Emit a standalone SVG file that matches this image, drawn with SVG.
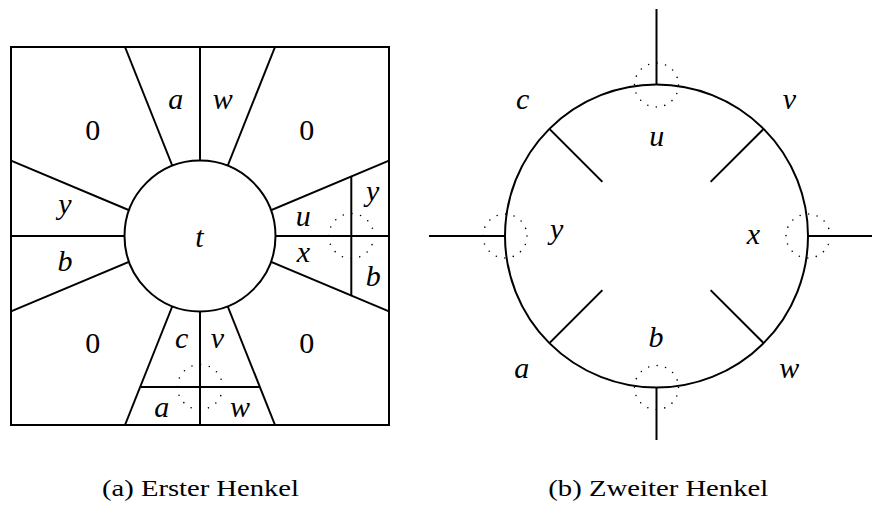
<svg xmlns="http://www.w3.org/2000/svg" width="872" height="509" viewBox="0 0 872 509">
<style>
.ln{stroke:#000;stroke-width:2;fill:none;stroke-linecap:butt}
.cw{stroke:#000;stroke-width:2;fill:#fff}
.dot{stroke:#000;stroke-width:1.6;fill:none;stroke-linecap:round}
.serif{font-family:'Liberation Serif','DejaVu Serif','Times New Roman',serif}
</style>
<rect width="872" height="509" fill="#fff"/>

<g id="panel-a">
  <g id="connectors-a">
    <rect x="11" y="47" width="378" height="378" class="ln"/>
    <line class="ln" x1="200" y1="47" x2="200" y2="200"/>
    <line class="ln" x1="125" y1="47" x2="180" y2="185"/>
    <line class="ln" x1="275" y1="47" x2="220" y2="185"/>
    <line class="ln" x1="11" y1="160.7" x2="150" y2="219"/>
    <line class="ln" x1="11" y1="311.3" x2="150" y2="253"/>
    <line class="ln" x1="11" y1="236" x2="150" y2="236"/>
    <line class="ln" x1="389" y1="160.7" x2="250" y2="219"/>
    <line class="ln" x1="389" y1="311.3" x2="250" y2="253"/>
    <line class="ln" x1="250" y1="236" x2="389" y2="236"/>
    <line class="ln" x1="351.3" y1="176.5" x2="351.3" y2="295.5"/>
    <line class="ln" x1="200" y1="270" x2="200" y2="425"/>
    <line class="ln" x1="180" y1="287" x2="125" y2="425"/>
    <line class="ln" x1="220" y1="287" x2="275" y2="425"/>
    <line class="ln" x1="140.7" y1="387" x2="259.3" y2="387"/>
  </g>
  <g id="node-t">
    <circle class="cw" cx="200" cy="236" r="75.5"/>
    <text class="serif" x="199.5" y="246.7" font-style="italic" font-size="30" text-anchor="middle">t</text>
  </g>
  <g id="dots-a">
    <circle class="dot" cx="351.3" cy="236" r="22.5" stroke-dasharray="0 8.836"/>
    <circle class="dot" cx="200" cy="387" r="22.5" stroke-dasharray="0 8.836"/>
  </g>
  <g id="labels-a" class="serif" font-size="30" text-anchor="middle">
    <g font-style="normal" font-size="30">
    <text x="92.7" y="139.5">0</text>
    <text x="306.7" y="139.5">0</text>
    <text x="92.7" y="353.3">0</text>
    <text x="306.7" y="353.3">0</text>
    </g>
    <g font-style="italic">
    <text x="175.7" y="109.3">a</text>
    <text x="222.7" y="109.3">w</text>
    <text x="65" y="214.4">y</text>
    <text x="65" y="270.7">b</text>
    <text x="303.3" y="226">u</text>
    <text x="303.3" y="261.7">x</text>
    <text x="372.7" y="201">y</text>
    <text x="373.3" y="286">b</text>
    <text x="181.7" y="348.3">c</text>
    <text x="217.3" y="348.3">v</text>
    <text x="161.7" y="416.7">a</text>
    <text x="240" y="416.7">w</text>
    </g>
  </g>
  <text class="serif" x="102" y="496" font-size="24" textLength="197" lengthAdjust="spacingAndGlyphs">(a) Erster Henkel</text>
</g>

<g id="panel-b">
  <g id="node-ring">
    <circle class="ln" cx="656.5" cy="236" r="151.5"/>
  </g>
  <g id="connectors-b">
    <line class="ln" x1="656.5" y1="9" x2="656.5" y2="84.5"/>
    <line class="ln" x1="656.5" y1="387.5" x2="656.5" y2="440"/>
    <line class="ln" x1="429" y1="236" x2="505" y2="236"/>
    <line class="ln" x1="808" y1="236" x2="872" y2="236"/>
    <line class="ln" x1="549.4" y1="128.9" x2="602.4" y2="181.9"/>
    <line class="ln" x1="763.6" y1="128.9" x2="710.6" y2="181.9"/>
    <line class="ln" x1="549.4" y1="343.1" x2="602.4" y2="290.1"/>
    <line class="ln" x1="763.6" y1="343.1" x2="710.6" y2="290.1"/>
  </g>
  <g id="dots-b">
    <circle class="dot" cx="656.5" cy="85" r="22" stroke-dasharray="0 8.639"/>
    <circle class="dot" cx="656.5" cy="387.5" r="22" stroke-dasharray="0 8.639"/>
    <circle class="dot" cx="505" cy="236" r="22" stroke-dasharray="0 8.639"/>
    <circle class="dot" cx="808" cy="236" r="22" stroke-dasharray="0 8.639"/>
  </g>
  <g id="labels-b" class="serif" font-size="30" font-style="italic" text-anchor="middle">
    <text x="522.7" y="109.3">c</text>
    <text x="789.3" y="109.3">v</text>
    <text x="656.7" y="145.7">u</text>
    <text x="556.7" y="238.7">y</text>
    <text x="753.3" y="244.3">x</text>
    <text x="656" y="346.7">b</text>
    <text x="521.7" y="377.7">a</text>
    <text x="789.3" y="377.7">w</text>
  </g>
  <text class="serif" x="548.3" y="496" font-size="24" textLength="220" lengthAdjust="spacingAndGlyphs">(b) Zweiter Henkel</text>
</g>
</svg>
